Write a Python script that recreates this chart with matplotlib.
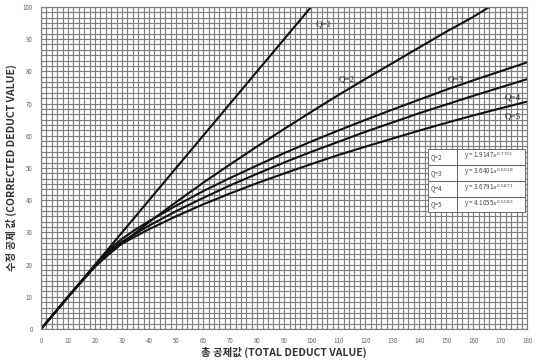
import numpy as np
import matplotlib
matplotlib.use("Agg")
import matplotlib.pyplot as plt

# values
x_q1 = [0, 100]
y_q1 = [0, 100]

x_q2 = [0, 10, 20, 25, 30, 35, 40, 50, 60, 70, 80, 90, 100, 110, 120, 130, 140, 150, 160, 166]
y_q2 = [0, 10, 19.4, 23.1, 26.6, 29.9, 33.2, 39.4, 45.4, 51.1, 56.7, 62.1, 67.4, 72.6, 77.6,
        82.5, 87.4, 92.3, 96.9, 100]

x_q345 = [0, 10, 20, 25, 30, 35, 40, 50, 60, 70, 80, 90, 100, 110, 120, 130, 140, 150, 160, 170, 180]
y_q3 = [0, 10, 19.8, 24.6, 28.0, 30.9, 33.5, 38.3, 42.8, 46.9, 50.8, 54.6, 58.2, 61.6, 64.9,
        68.1, 71.2, 74.3, 77.2, 80.0, 82.8]
y_q4 = [0, 10, 19.6, 24.2, 27.1, 29.6, 32.1, 36.6, 40.7, 44.6, 48.2, 51.7, 55.0, 58.1, 61.2,
        64.1, 67.0, 69.7, 72.4, 75.0, 77.6]
y_q5 = [0, 10, 19.5, 23.8, 26.5, 28.8, 31.0, 35.0, 38.7, 42.1, 45.3, 48.3, 51.2, 54.0, 56.6,
        59.1, 61.6, 64.0, 66.3, 68.5, 70.6]

curve_labels = ["Q=1", "Q=2", "Q=3", "Q=4", "Q=5"]
label_pos = [(101.5, 94.5), (110, 77.5), (150.5, 77.5), (171.5, 72), (171.5, 66)]

table_q = ["Q=2", "Q=3", "Q=4", "Q=5"]
table_eq = [r"y = 1.9147$x^{0.7733}$", r"y = 3.6401$x^{0.6018}$",
            r"y = 3.6791$x^{0.5871}$", r"y = 4.1055$x^{0.5583}$"]

plt.rcParams['font.family'] = ['Noto Sans CJK KR', 'DejaVu Sans']

fig = plt.figure(figsize=(5.47, 3.62), dpi=100)
ax = fig.add_axes([0.075, 0.091, 0.889, 0.89])

ax.set_xlim(0, 180)
ax.set_ylim(0, 100)

# fine grid: square cells, 90 across and 60 up
ax.set_xticks(np.arange(0, 181, 10))
ax.set_yticks(np.arange(0, 101, 10))
ax.set_xticks(np.linspace(0, 180, 91), minor=True)
ax.set_yticks(np.linspace(0, 100, 61), minor=True)
ax.grid(which='both', color='#808080', linewidth=0.85)
ax.set_axisbelow(True)
ax.tick_params(which='both', length=0)
ax.tick_params(labelsize=4.5, labelcolor='#666666', pad=6)
for s in ax.spines.values():
    s.set_color('#808080')
    s.set_linewidth(0.85)

for xs, ys in [(x_q1, y_q1), (x_q2, y_q2), (x_q345, y_q3), (x_q345, y_q4), (x_q345, y_q5)]:
    ax.plot(xs, ys, color='#111111', linewidth=1.5, solid_capstyle='round')

for lab, (lx, ly) in zip(curve_labels, label_pos):
    ax.text(lx, ly, lab, family='Liberation Serif', fontsize=6.5, color='#222222',
            va='center', ha='left')

tbl = ax.table(cellText=[[q, e] for q, e in zip(table_q, table_eq)],
               colWidths=[0.3, 0.7], cellLoc='left',
               bbox=[0.796, 0.362, 0.2, 0.197], zorder=5)
tbl.auto_set_font_size(False)
tbl.set_fontsize(4.5)
for cell in tbl.get_celld().values():
    cell.set_facecolor('white')
    cell.set_edgecolor('#555555')
    cell.set_linewidth(0.6)
    cell.get_text().set_color('#444444')

ax.set_xlabel("총 공제값 (TOTAL DEDUCT VALUE)", fontsize=7.5, fontweight='bold',
              color='#333333', labelpad=1)
ax.set_ylabel("수정 공제 값 (CORRECTED DEDUCT VALUE)", fontsize=7.5, fontweight='bold',
              color='#333333', labelpad=4)

fig.savefig("out.png", dpi=100)
